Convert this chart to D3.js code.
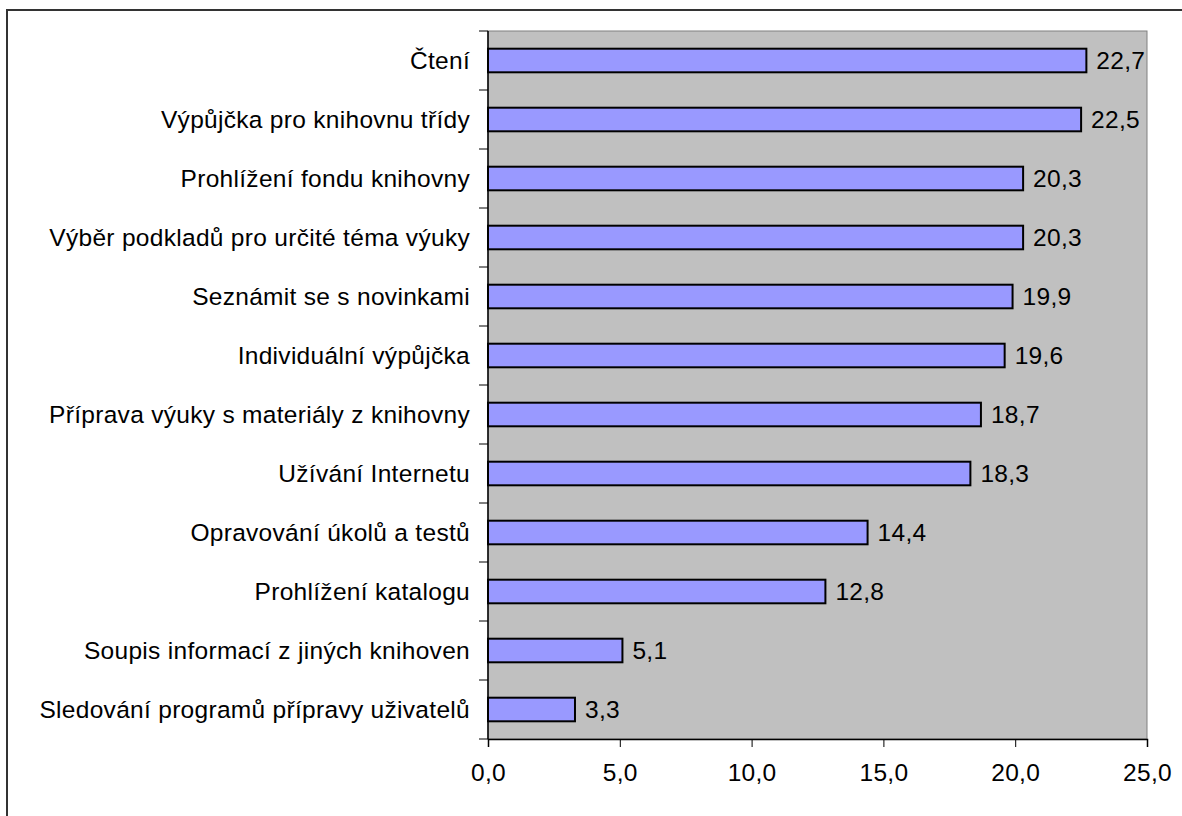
<!DOCTYPE html>
<html><head><meta charset="utf-8">
<script src="https://cdn.jsdelivr.net/npm/d3@7"></script>
<style>body{margin:0;background:#fff}svg{display:block;font-family:"Liberation Sans",Arial,sans-serif}</style>
</head><body>
<svg id="c" width="1182" height="816"></svg>
<script>
const categories = ["Čtení","Výpůjčka pro knihovnu třídy","Prohlížení fondu knihovny","Výběr podkladů pro určité téma výuky","Seznámit se s novinkami","Individuální výpůjčka","Příprava výuky s materiály z knihovny","Užívání Internetu","Opravování úkolů a testů","Prohlížení katalogu","Soupis informací z jiných knihoven","Sledování programů přípravy uživatelů"];
const values = [22.7,22.5,20.3,20.3,19.9,19.6,18.7,18.3,14.4,12.8,5.1,3.3];
const xTicks = [0,5,10,15,20,25];

const svg = d3.select("#c");
const L=488, R=1147, T=31, B=739;
const FS = 24.5;
const fmt = v => d3.format(".1f")(v).replace(".", ",");
const x = d3.scaleLinear().domain([0,25]).range([L,R]);
const y = d3.scaleBand().domain(categories).range([T,B]).paddingInner(0.6).paddingOuter(0.3);

// outer border
svg.append("rect").attr("x",7).attr("y",10).attr("width",1190).attr("height",820).attr("fill","none").attr("stroke","#333").attr("stroke-width",2);

svg.append("rect").attr("x",L).attr("y",T).attr("width",R-L).attr("height",B-T).attr("fill","#c0c0c0").attr("stroke","#808080").attr("stroke-width",1);

svg.selectAll("rect.bar").data(values).enter().append("rect").attr("class","bar")
 .attr("x",x(0)).attr("y",(d,i)=>y(categories[i])).attr("width",d=>x(d)-x(0)).attr("height",y.bandwidth())
 .attr("fill","#9999ff").attr("stroke","#000").attr("stroke-width",2);

svg.selectAll("text.val").data(values).enter().append("text").attr("class","val")
 .attr("x",d=>x(d)+10).attr("y",(d,i)=>y(categories[i])+y.bandwidth()/2).attr("dy","0.35em")
 .attr("font-size",FS).attr("letter-spacing",0.3).text(d=>fmt(d));

// left axis
const step = (B-T)/categories.length;
const ly = svg.append("g");
ly.append("line").attr("x1",L).attr("x2",L).attr("y1",T).attr("y2",B).attr("stroke","#000").attr("stroke-width",1.5);
d3.range(categories.length+1).forEach(i=>{
  ly.append("line").attr("x1",L-9).attr("x2",L).attr("y1",T+i*step).attr("y2",T+i*step).attr("stroke","#000").attr("stroke-width",1);
});
categories.forEach((c,i)=>{
  ly.append("text").attr("x",L-18).attr("y",y(c)+y.bandwidth()/2).attr("dy","0.35em").attr("text-anchor","end").attr("font-size",FS).attr("letter-spacing",0.3).text(c);
});

// bottom axis
const ax = svg.append("g").attr("transform",`translate(0,${B})`)
 .call(d3.axisBottom(x).tickValues(xTicks).tickSize(8).tickPadding(17).tickFormat(fmt));
ax.select(".domain").attr("stroke","#000").attr("stroke-width",1.5);
ax.selectAll("text").attr("font-size",FS).attr("letter-spacing",0.3).attr("font-family","Liberation Sans, Arial, sans-serif").attr("fill","#000");
</script>
</body></html>
